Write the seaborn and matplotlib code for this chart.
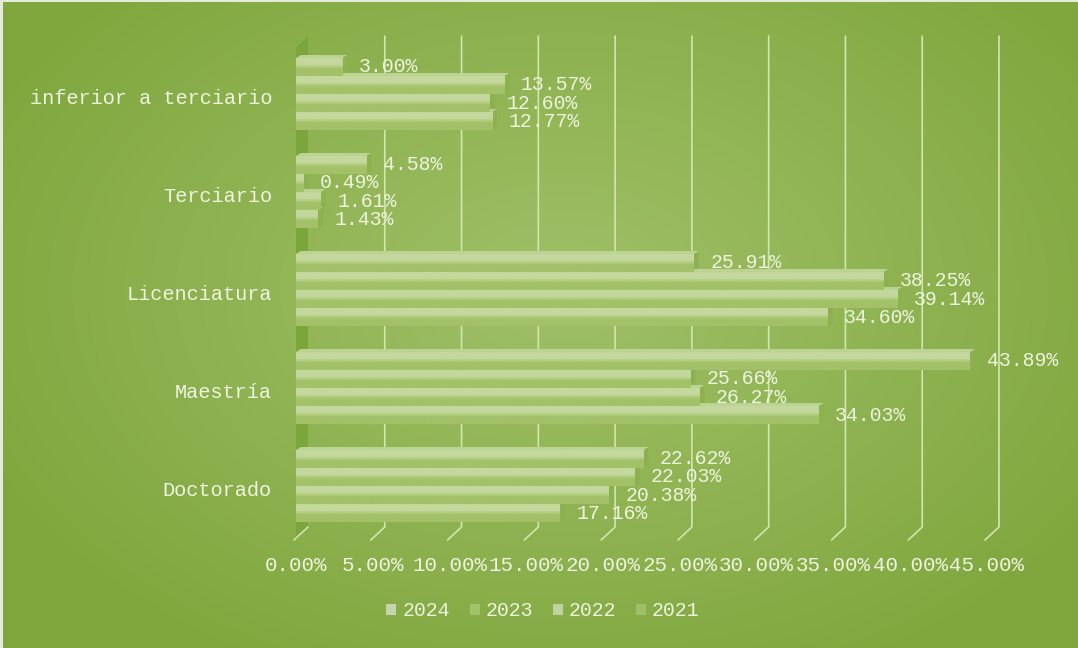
import numpy as np
import pandas as pd
import matplotlib
matplotlib.use("Agg")
import matplotlib.pyplot as plt
import seaborn as sns
from matplotlib.patches import Polygon, Rectangle
from matplotlib.lines import Line2D
from matplotlib.transforms import IdentityTransform, offset_copy
from matplotlib.ticker import FuncFormatter
from matplotlib.colors import to_rgb

# --- data -------------------------------------------------------------
niveles = ["inferior a terciario", "Terciario", "Licenciatura", "Maestría", "Doctorado"]
anios = ["2024", "2023", "2022", "2021"]
v2024 = [3.00, 4.58, 25.91, 43.89, 22.62]
v2023 = [13.57, 0.49, 38.25, 25.66, 22.03]
v2022 = [12.60, 1.61, 39.14, 26.27, 20.38]
v2021 = [12.77, 1.43, 34.60, 34.03, 17.16]
ticks_x = [0, 5, 10, 15, 20, 25, 30, 35, 40, 45]

series = {"2024": v2024, "2023": v2023, "2022": v2022, "2021": v2021}
df = pd.DataFrame(
    [(n, a, v) for a in anios for n, v in zip(niveles, series[a])],
    columns=["nivel", "anio", "valor"],
)

# --- style --------------------------------------------------------------
sns.set_style("white")
plt.rcParams["font.family"] = ["Liberation Mono", "DejaVu Sans Mono"]
TXT = "#eef4df"
bar_colors = {"2024": "#b9d18c", "2023": "#b3cd84", "2022": "#b7d08a", "2021": "#b1cb80"}
legend_colors = {"2024": "#c6d4ae", "2023": "#a2c269", "2022": "#bed3a0", "2021": "#a0c067"}

W, H = 1078, 648
EDGE = "#80a73e"
fig = plt.figure(figsize=(W / 100, H / 100), dpi=100, facecolor=EDGE)

# radial green background
bg = fig.add_axes([0, 0, 1, 1], zorder=-5)
bg.axis("off")
yy, xx = np.mgrid[0:H, 0:W]
d = np.sqrt(((xx - 560) / 640.0) ** 2 + ((yy - 290) / 430.0) ** 2)
d = np.clip(d, 0, 1)[..., None]
c_in = np.array([160, 192, 104]) / 255.0
c_out = np.array(to_rgb(EDGE))
bg.imshow(c_in * (1 - d) + c_out * d, aspect="auto", extent=(0, W, H, 0))
bg.set_xlim(0, W)
bg.set_ylim(H, 0)
bg.add_patch(Rectangle((0, 0), 3, H, color="#e4ebda", lw=0))
bg.add_patch(Rectangle((0, 0), W, 2, color="#e4ebda", lw=0))

# plot area (front plane of the 3-D box)
L, R, T, B = 296, 987, 45, 535
ax = fig.add_axes([L / W, 1 - B / H, (R - L) / W, (B - T) / H])
ax.patch.set_alpha(0)

sns.barplot(
    data=df, y="nivel", x="valor", hue="anio", order=niveles, hue_order=anios,
    orient="h", palette=bar_colors, width=0.735, saturation=1, legend=False,
    edgecolor="none", linewidth=0, zorder=3, ax=ax,
)
ax.set_xlim(0, 45)
ax.set_ylim(4.5, -0.5)
for s in ax.spines.values():
    s.set_visible(False)
ax.set_xlabel("")
ax.set_ylabel("")

ax.set_xticks(ticks_x)
ax.xaxis.set_major_formatter(FuncFormatter(lambda v, p: f"{v:.2f}%"))
ax.tick_params(axis="x", length=0, pad=15, labelsize=15, labelcolor=TXT)
ax.tick_params(axis="y", length=0, labelleft=False)

# category names, sitting slightly below the group centres
cat_tr = offset_copy(ax.get_yaxis_transform(), fig=fig, x=-24, y=-5, units="dots")
for i, n in enumerate(niveles):
    ax.text(0, i, n, transform=cat_tr, ha="right", va="center", fontsize=14.6, color=TXT)

ident = IdentityTransform()

def px(xv, yv=0):
    return ax.transData.transform((xv, yv))

# left wall of the box
x0f = px(0)[0]
ax.add_patch(Polygon([(x0f, H - 540), (x0f, H - 48), (x0f + 12, H - 36), (x0f + 12, H - 528)],
                     closed=True, color="#7ba63b", lw=0, transform=ident, clip_on=False, zorder=0.5))

# gridlines on the back wall folding onto the floor
for t in ticks_x:
    xf = px(t)[0]
    xb = xf + 12
    if t == 0:
        xs, ys = [xb, xf - 2], [H - 527, H - 540]
    else:
        xs, ys = [xb, xb, xf - 2], [H - 36, H - 527, H - 540]
    ax.add_line(Line2D(xs, ys, color="#d4e5ae", lw=1.2, transform=ident, clip_on=False, zorder=1))

# vertical shading of the bar faces: pale upper half, deeper green lower half
light = np.array(to_rgb("#c4d89d"))
dark = np.array(to_rgb("#a3c168"))
top = np.array(to_rgb("#cadea6"))
tt = np.linspace(0, 1, 80)
grad = np.zeros((80, 1, 3))
for i, t in enumerate(tt):
    if t < 0.1:
        c = top * (1 - t / 0.1) + light * (t / 0.1)
    elif t < 0.38:
        c = light
    elif t < 0.62:
        w = (t - 0.38) / 0.24
        c = light * (1 - w) + dark * w
    else:
        c = dark
    grad[i, 0] = c

xl, yl = ax.get_xlim(), ax.get_ylim()
for cont in ax.containers:
    for p in cont:
        bx0, by0 = p.get_x(), p.get_y()
        bw, bh = p.get_width(), p.get_height()
        (dx0, dyt), (dxe, dyb) = px(bx0, by0), px(bx0 + bw, by0 + bh)
        # side face
        ax.add_patch(Polygon([(dxe, dyb), (dxe, dyt), (dxe + 5, dyt + 3), (dxe + 5, dyb + 3)],
                             closed=True, color="#8db14e", lw=0, transform=ident,
                             clip_on=False, zorder=2))
        # top face
        ax.add_patch(Polygon([(dx0, dyt), (dxe, dyt), (dxe + 5, dyt + 3), (dx0 + 5, dyt + 3)],
                             closed=True, color="#bcd394", lw=0, transform=ident,
                             clip_on=False, zorder=2))
        im = ax.imshow(grad, aspect="auto", extent=(bx0, bx0 + bw, by0 + bh, by0),
                       origin="upper", zorder=3.1, interpolation="bilinear")
        im.set_clip_path(p)
ax.set_xlim(xl)
ax.set_ylim(yl)

# value labels
for cont, a in zip(ax.containers, anios):
    ax.bar_label(cont, labels=[f"{v:.2f}%" for v in series[a]], padding=12,
                 fontsize=14.3, color=TXT, zorder=5)

# legend
handles = [Rectangle((0, 0), 1, 1, color=legend_colors[a], lw=0) for a in anios]
leg = fig.legend(handles, anios, loc="center", bbox_to_anchor=(543 / W, 1 - 611 / H),
                 ncol=4, frameon=False, fontsize=14.3, handlelength=0.5, handleheight=0.5,
                 handletextpad=0.3, columnspacing=1.0, labelcolor=TXT)

fig.savefig("out.png", dpi=100, facecolor=EDGE)
